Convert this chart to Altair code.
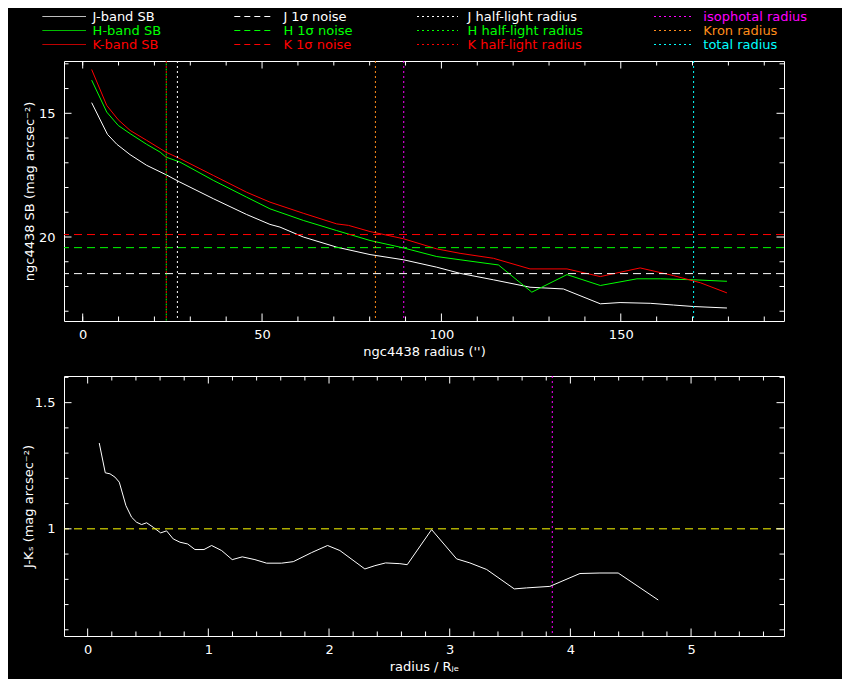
import altair as alt
import pandas as pd

# ---------------- data ----------------
J_R = [2.5, 6.9, 9.5, 13.2, 17.8, 23.2, 27.1, 36.4, 45.7, 52.2, 55.0, 61.5, 70.8, 80.1,
       89.4, 98.7, 105.2, 114.5, 124.7, 134.0, 144.3, 149.8, 158.2, 164.7, 170.3, 179.6]
J_SB = [14.57, 15.85, 16.25, 16.67, 17.10, 17.48, 17.78, 18.45, 19.09, 19.49, 19.60, 20.00, 20.41, 20.71,
        20.92, 21.22, 21.47, 21.73, 22.03, 22.10, 22.70, 22.65, 22.68, 22.75, 22.81, 22.87]

H_R = [2.5, 6.7, 9.9, 13.2, 17.8, 21.6, 23.2, 27.1, 36.4, 45.7, 52.2, 61.5, 70.8, 80.1,
       89.4, 98.7, 105.2, 115.9, 125.2, 135.0, 144.3, 154.5, 161.0, 170.3, 179.6]
H_SB = [13.66, 14.95, 15.49, 15.82, 16.25, 16.57, 16.77, 16.97, 17.71, 18.39, 18.86, 19.33, 19.74, 20.14,
        20.44, 20.79, 20.92, 21.13, 22.23, 21.52, 21.96, 21.69, 21.69, 21.73, 21.79]

K_R = [2.5, 6.7, 9.9, 13.2, 17.8, 23.2, 27.1, 36.4, 45.7, 52.2, 61.5, 70.8, 74.1, 80.1,
       89.4, 98.7, 105.2, 114.5, 124.7, 135.0, 144.3, 155.4, 164.7, 172.2, 179.6]
K_SB = [13.23, 14.68, 15.26, 15.69, 16.09, 16.57, 16.83, 17.51, 18.19, 18.59, 19.04, 19.47, 19.53, 19.78,
        20.07, 20.48, 20.66, 20.86, 21.29, 21.29, 21.60, 21.25, 21.56, 21.85, 22.26]

NOISE_BAND = ["J", "H", "K"]
NOISE_LEVEL = [21.48, 20.43, 19.90]

RADIUS_NAME = ["J half-light", "K half-light", "isophotal", "Kron", "total"]
RADIUS_VAL = [26.4, 23.3, 89.5, 81.6, 170.3]
H_HALF = 23.3

JK_R = [0.096, 0.146, 0.185, 0.226, 0.262, 0.317, 0.364, 0.406, 0.447, 0.489, 0.544, 0.605,
        0.654, 0.709, 0.765, 0.829, 0.889, 0.964, 1.027, 1.110, 1.198, 1.281, 1.386, 1.483,
        1.607, 1.704, 1.856, 1.988, 2.090, 2.297, 2.380, 2.469, 2.587, 2.648, 2.850, 3.057,
        3.167, 3.306, 3.535, 3.637, 3.830, 4.079, 4.245, 4.396, 4.728]
JK = [1.340, 1.222, 1.218, 1.205, 1.185, 1.092, 1.046, 1.026, 1.017, 1.024, 1.006, 0.984,
      0.992, 0.960, 0.947, 0.940, 0.918, 0.918, 0.934, 0.914, 0.878, 0.889, 0.878, 0.864,
      0.864, 0.870, 0.906, 0.934, 0.914, 0.841, 0.854, 0.865, 0.862, 0.858, 0.997, 0.881,
      0.865, 0.839, 0.762, 0.766, 0.772, 0.823, 0.825, 0.825, 0.718]
JK_REF = [1.0]
ISO_NORM = [3.85]

TOP_X_LABELS = [0, 50, 100, 150]
TOP_X_MINOR = [0, 10, 20, 30, 40, 60, 70, 80, 90, 110, 120, 130, 140, 160, 170, 180, 190]
TOP_Y_LABELS = [15, 20]
TOP_Y_MINOR = [13, 14, 16, 17, 18, 19, 21, 22, 23]
BOT_X_LABELS = [0, 1, 2, 3, 4, 5]
BOT_X_MINOR = [0.2, 0.4, 0.6, 0.8, 1.2, 1.4, 1.6, 1.8, 2.2, 2.4, 2.6, 2.8, 3.2, 3.4, 3.6, 3.8,
               4.2, 4.4, 4.6, 4.8, 5.2, 5.4, 5.6]
BOT_Y_LABELS = [1.0, 1.5]
BOT_Y_MINOR = [0.6, 0.7, 0.8, 0.9, 1.1, 1.2, 1.3, 1.4, 1.6]

LEG_LABELS = ["J-band SB", "H-band SB", "K-band SB",
              "J 1σ noise", "H 1σ noise", "K 1σ noise",
              "J half-light radius", "H half-light radius", "K half-light radius",
              "isophotal radius", "Kron radius", "total radius"]
LEG_STYLE = ["solid"] * 3 + ["dashed"] * 3 + ["dotted"] * 6

WHITE, GREEN, RED = "#ffffff", "#00ff00", "#ff0000"
MAGENTA, ORANGE, CYAN, YELLOW = "#ff00ff", "#ff8c1a", "#00ffff", "#ffff00"
BAND_COLOR = {"J": WHITE, "H": GREEN, "K": RED}
RADIUS_COLOR = [WHITE, RED, MAGENTA, ORANGE, CYAN]
LEG_COLORS = [WHITE, GREEN, RED, WHITE, GREEN, RED, WHITE, GREEN, RED, MAGENTA, ORANGE, CYAN]

# ---------------- layout constants ----------------
W, H = 720, 260
FONT = "DejaVu Sans"
FS = 13
MINOR_LEN, MAJOR_LEN = 4.5, 7.5
COL_LINE_X1 = [-21.5, 170.3, 353.0, 590.0]
COL_LINE_X2 = [22.0, 206.8, 394.0, 629.3]
COL_TEXT_X = [28.6, 219.4, 403.6, 639.3]
ROW_Y = [-44.5, -30.5, -16.5]

sx_top = alt.Scale(domain=[-5.21, 195.5], nice=False, zero=False)
sy_top = alt.Scale(domain=[12.886, 23.395], reverse=True, nice=False, zero=False)
sx_bot = alt.Scale(domain=[-0.196, 5.770], nice=False, zero=False)
sy_bot = alt.Scale(domain=[0.5754, 1.6056], nice=False, zero=False)

ax_top_x = alt.Axis(values=TOP_X_LABELS, format="d", title="ngc4438 radius ('')",
                    labelPadding=7, titleY=30, titleBaseline="middle")
ax_top_y = alt.Axis(values=TOP_Y_LABELS, format="d", title="ngc4438 SB (mag arcsec⁻²)",
                    labelPadding=9, titleX=-35, titleY=130, titleBaseline="middle",
                    titleAlign="center", titleAngle=270)
ax_bot_x = alt.Axis(values=BOT_X_LABELS, format="d", title="radius / Rⱼₑ",
                    labelPadding=7, titleY=30, titleBaseline="middle")
ax_bot_y = alt.Axis(values=BOT_Y_LABELS, format=".1~f", title="J-Kₛ (mag arcsec⁻²)",
                    labelPadding=9, titleX=-36, titleY=130, titleBaseline="middle",
                    titleAlign="center", titleAngle=270)


def tick_layers(xmin, xmaj, ymin, ymaj, sx, sy, ax, ay):
    layers = []
    for vals, ln in ((xmin, MINOR_LEN), (xmaj, MAJOR_LEN)):
        d = pd.DataFrame({"v": vals})
        base = alt.Chart(d).mark_rule(color="white", strokeWidth=1)
        layers.append(base.encode(x=alt.X("v:Q", scale=sx, axis=ax),
                                  y=alt.value(H), y2=alt.value(H - ln)))
        layers.append(base.encode(x=alt.X("v:Q", scale=sx, axis=ax),
                                  y=alt.value(0), y2=alt.value(ln)))
    for vals, ln in ((ymin, MINOR_LEN), (ymaj, MAJOR_LEN)):
        d = pd.DataFrame({"v": vals})
        base = alt.Chart(d).mark_rule(color="white", strokeWidth=1)
        layers.append(base.encode(y=alt.Y("v:Q", scale=sy, axis=ay),
                                  x=alt.value(0), x2=alt.value(ln)))
        layers.append(base.encode(y=alt.Y("v:Q", scale=sy, axis=ay),
                                  x=alt.value(W), x2=alt.value(W - ln)))
    return layers


# ---------------- top panel ----------------
sb_rows = []
for band, rs, ms in (("J", J_R, J_SB), ("H", H_R, H_SB), ("K", K_R, K_SB)):
    for r, m in zip(rs, ms):
        sb_rows.append({"band": band, "r": r, "sb": m, "col": BAND_COLOR[band]})
sb_df = pd.DataFrame(sb_rows)

noise_df = pd.DataFrame({"band": NOISE_BAND, "level": NOISE_LEVEL,
                         "col": [BAND_COLOR[b] for b in NOISE_BAND]})
rad_df = pd.DataFrame({"name": RADIUS_NAME, "r": RADIUS_VAL, "col": RADIUS_COLOR})
hrad_df = pd.DataFrame({"name": ["H half-light"], "r": [H_HALF], "col": [GREEN]})

lines = alt.Chart(sb_df).mark_line(strokeWidth=1).encode(
    x=alt.X("r:Q", scale=sx_top, axis=ax_top_x),
    y=alt.Y("sb:Q", scale=sy_top, axis=ax_top_y),
    color=alt.Color("col:N", scale=None),
    detail="band:N",
)
noise = alt.Chart(noise_df).mark_rule(strokeWidth=1, strokeDash=[8, 5]).encode(
    y=alt.Y("level:Q", scale=sy_top, axis=ax_top_y),
    color=alt.Color("col:N", scale=None),
)
radii = alt.Chart(rad_df).mark_rule(strokeWidth=1, strokeDash=[2, 3]).encode(
    x=alt.X("r:Q", scale=sx_top, axis=ax_top_x),
    color=alt.Color("col:N", scale=None),
)
hradii = alt.Chart(hrad_df).mark_rule(strokeWidth=1, strokeDash=[2, 3], strokeDashOffset=2.5).encode(
    x=alt.X("r:Q", scale=sx_top, axis=ax_top_x),
    color=alt.Color("col:N", scale=None),
)

# legend (drawn above the top panel, pixel positions)
leg_rows = []
for i, (lab, colr, sty) in enumerate(zip(LEG_LABELS, LEG_COLORS, LEG_STYLE)):
    c, rw = i // 3, i % 3
    leg_rows.append({"label": lab, "col": colr, "style": sty,
                     "lx1": COL_LINE_X1[c], "lx2": COL_LINE_X2[c],
                     "tx": COL_TEXT_X[c], "ly": ROW_Y[rw]})
leg_df = pd.DataFrame(leg_rows)

leg_lines = alt.Chart(leg_df).mark_rule(strokeWidth=1).encode(
    x=alt.X("lx1:Q", scale=None), x2="lx2:Q",
    y=alt.Y("ly:Q", scale=None),
    color=alt.Color("col:N", scale=None),
    strokeDash=alt.StrokeDash("style:N", legend=None,
                              scale=alt.Scale(domain=["solid", "dashed", "dotted"],
                                              range=[[1, 0], [6, 4], [2, 3]])),
)
leg_text = alt.Chart(leg_df).mark_text(align="left", baseline="middle", font=FONT, fontSize=FS).encode(
    x=alt.X("tx:Q", scale=None),
    y=alt.Y("ly:Q", scale=None),
    text="label:N",
    color=alt.Color("col:N", scale=None),
)
legend = alt.layer(leg_lines, leg_text)

top_main = alt.layer(
    lines, noise, radii, hradii,
    *tick_layers(TOP_X_MINOR, TOP_X_LABELS, TOP_Y_MINOR, TOP_Y_LABELS, sx_top, sy_top,
                 ax_top_x, ax_top_y),
)
top = alt.layer(top_main, legend).resolve_scale(
    x="independent", y="independent", strokeDash="independent"
).properties(width=W, height=H)

# ---------------- bottom panel ----------------
jk_df = pd.DataFrame({"r": JK_R, "jk": JK})

jk_line = alt.Chart(jk_df).mark_line(strokeWidth=1, color="white").encode(
    x=alt.X("r:Q", scale=sx_bot, axis=ax_bot_x),
    y=alt.Y("jk:Q", scale=sy_bot, axis=ax_bot_y),
)
ref = alt.Chart(pd.DataFrame({"v": JK_REF})).mark_rule(
    color=YELLOW, strokeWidth=1, strokeDash=[8, 5]).encode(
    y=alt.Y("v:Q", scale=sy_bot, axis=ax_bot_y))
iso = alt.Chart(pd.DataFrame({"v": ISO_NORM})).mark_rule(
    color=MAGENTA, strokeWidth=1, strokeDash=[2, 3]).encode(
    x=alt.X("v:Q", scale=sx_bot, axis=ax_bot_x))

bottom = alt.layer(
    jk_line, ref, iso,
    *tick_layers(BOT_X_MINOR, BOT_X_LABELS, BOT_Y_MINOR, BOT_Y_LABELS, sx_bot, sy_bot,
                 ax_bot_x, ax_bot_y),
).properties(width=W, height=H)

chart = alt.vconcat(top, bottom, spacing=55, bounds="flush").configure(
    background="black",
    padding={"left": 13, "top": 2, "right": 34, "bottom": 5},
).configure_view(
    stroke="white", strokeWidth=1, fill="black",
).configure_axis(
    labelColor="white", titleColor="white", labelFont=FONT, titleFont=FONT,
    labelFontSize=FS, titleFontSize=FS, titleFontWeight="normal",
    domain=False, grid=False, labelFlush=False, labelOverlap=False,
    tickSize=0, tickOpacity=0,
)

chart.save("out.html", embed_options={"renderer": "svg", "actions": False})
